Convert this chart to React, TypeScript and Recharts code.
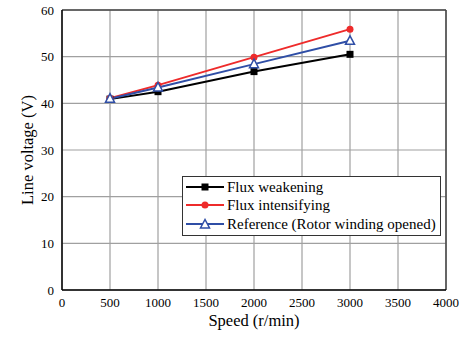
import React from 'react';
import { LineChart, Line, XAxis, YAxis, CartesianGrid, Legend, ReferenceLine } from 'recharts';

const speeds = [500, 1000, 2000, 3000];
const fluxWeakening = [40.9, 42.5, 46.8, 50.5];
const fluxIntensifying = [41.1, 43.9, 49.9, 55.9];
const referenceOpen = [41.0, 43.4, 48.4, 53.4];

const xTicks = [0, 500, 1000, 1500, 2000, 2500, 3000, 3500, 4000];
const yTicks = [0, 10, 20, 30, 40, 50, 60];

const data = speeds.map((s, i) => ({
  speed: s,
  weak: fluxWeakening[i],
  intens: fluxIntensifying[i],
  ref: referenceOpen[i],
}));

const FONT = 'Liberation Serif';
const RED = '#ee2b2b';
const BLUE = '#2f4ea6';

const Square = (p: any) => (
  <rect key={p.key ?? `sq-${p.index}`} x={p.cx - 3.5} y={p.cy - 3.5} width={7} height={7} fill="#000" />
);
const Dot = (p: any) => <circle key={p.key ?? `c-${p.index}`} cx={p.cx} cy={p.cy} r={3.5} fill={RED} />;
const Tri = (p: any) => (
  <polygon
    key={p.key ?? `t-${p.index}`}
    points={`${p.cx},${p.cy - 5} ${p.cx - 4.5},${p.cy + 3.5} ${p.cx + 4.5},${p.cy + 3.5}`}
    fill="#fff"
    stroke={BLUE}
    strokeWidth={1.5}
  />
);

const legendItems = [
  { label: 'Flux weakening', color: '#000', marker: 'square' },
  { label: 'Flux intensifying', color: RED, marker: 'circle' },
  { label: 'Reference (Rotor winding opened)', color: BLUE, marker: 'triangle' },
];

const LegendBox = () => (
  <div
    style={{
      border: '1px solid #333',
      background: '#fff',
      padding: '1px 4px 2px 2px',
      fontFamily: FONT,
      fontSize: 15,
      color: '#000',
      lineHeight: '18.3px',
    }}
  >
    {legendItems.map((it) => (
      <div key={it.label} style={{ display: 'flex', alignItems: 'center', whiteSpace: 'nowrap' }}>
        <svg width={40} height={12} style={{ marginRight: 2 }}>
          <line x1={1} y1={6} x2={39} y2={6} stroke={it.color} strokeWidth={2} />
          {it.marker === 'square' && <rect x={16.5} y={2.5} width={7} height={7} fill="#000" />}
          {it.marker === 'circle' && <circle cx={20} cy={6} r={3.5} fill={RED} />}
          {it.marker === 'triangle' && (
            <polygon points="20,1.5 15.5,10 24.5,10" fill="#fff" stroke={BLUE} strokeWidth={1.5} />
          )}
        </svg>
        <span>{it.label}</span>
      </div>
    ))}
  </div>
);

export default function App() {
  return (
    <div style={{ position: 'absolute', left: 0, top: 0, width: 468, height: 342, background: '#fff' }}>
      <LineChart width={468} height={342} data={data} margin={{ top: 10, right: 22, left: 0, bottom: 0 }}>
        <CartesianGrid stroke="#a0a0a0" strokeWidth={1.2} />
        <XAxis
          dataKey="speed"
          type="number"
          domain={[0, 4000]}
          ticks={xTicks}
          height={52}
          tickLine={false}
          axisLine={{ stroke: '#000', strokeWidth: 1.5 }}
          tick={{ fontFamily: FONT, fontSize: 13, fill: '#000' }}
          interval={0}
          label={{
            value: 'Speed (r/min)',
            position: 'insideBottom',
            offset: 16,
            style: { fontFamily: FONT, fontSize: 16.5, fill: '#000' },
          }}
        />
        <YAxis
          type="number"
          domain={[0, 60]}
          ticks={yTicks}
          width={62}
          tickLine={false}
          axisLine={{ stroke: '#000', strokeWidth: 1.5 }}
          tick={{ fontFamily: FONT, fontSize: 13, fill: '#000' }}
          interval={0}
          label={{
            value: 'Line voltage (V)',
            angle: -90,
            position: 'insideLeft',
            offset: 27,
            style: { fontFamily: FONT, fontSize: 16.5, fill: '#000', textAnchor: 'middle' },
          }}
        />
        <ReferenceLine y={yTicks[yTicks.length - 1]} stroke="#444" strokeWidth={1.5} />
        <ReferenceLine x={xTicks[xTicks.length - 1]} stroke="#444" strokeWidth={1.5} />
        <Line dataKey="weak" stroke="#000" strokeWidth={2} dot={Square} isAnimationActive={false} />
        <Line dataKey="intens" stroke={RED} strokeWidth={2} dot={Dot} isAnimationActive={false} />
        <Line dataKey="ref" stroke={BLUE} strokeWidth={2} dot={Tri} isAnimationActive={false} />
        <Legend
          layout="vertical"
          align="center"
          verticalAlign="middle"
          content={() => <LegendBox />}
          wrapperStyle={{ position: 'absolute', left: 182, top: 176, width: 'auto' }}
        />
      </LineChart>
    </div>
  );
}
